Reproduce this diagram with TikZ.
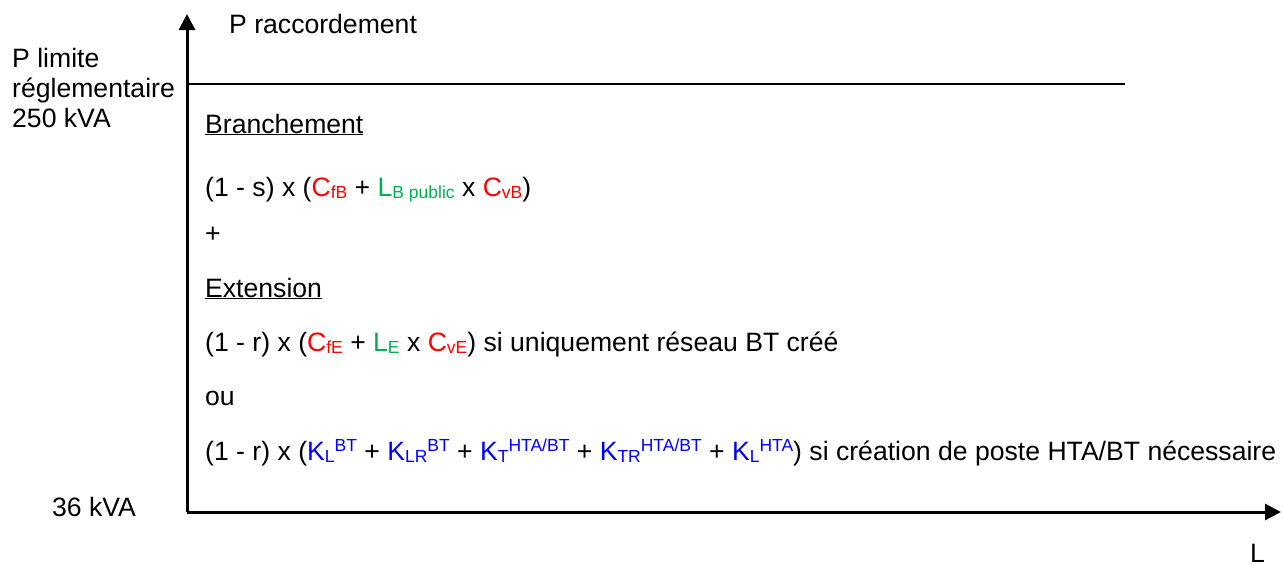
\documentclass[tikz,border=0pt]{standalone}
\usepackage{fontspec}
\setmainfont{Liberation Sans}
\usetikzlibrary{arrows.meta}
\definecolor{tarifred}{RGB}{255,0,0}
\definecolor{tarifgreen}{RGB}{0,176,80}
\definecolor{tarifblue}{RGB}{0,0,255}
\newcommand{\ind}[1]{\raisebox{-0.1em}{\fontsize{17.5}{18}\selectfont #1}}
\newcommand{\expo}[1]{\raisebox{0.33em}{\fontsize{17.5}{18}\selectfont #1}}

\begin{document}
\begin{tikzpicture}
	[x=1pt,y=-1pt,
	 txt/.style={anchor=base west,inner sep=0pt,font=\fontsize{26.6}{30}\selectfont},
	 axis/.style={-{Triangle[length=16pt,width=16pt]},line width=3pt},
	 level/.style={line width=1.1pt}];
\useasboundingbox (0,0) rectangle (1283,565);
\coordinate (O) at (187,512);
\coordinate (ytop) at (187,14);
\coordinate (xend) at (1281,512);
\coordinate (lvlstart) at (187,84);
\coordinate (lvlend) at (1125,84);

\draw[axis] (O) -- (ytop);
\draw[axis] (O) -- (xend);
\draw[level] (lvlstart) -- (lvlend);

\node[txt] (praccord) at (229,33) {P raccordement};
\node[txt,anchor=north west,align=left] (plimite) at (12,48) {P limite\\r\'eglementaire\\250 kVA};
\node[txt] (pmin) at (52,516) {36 kVA};
\node[txt] (laxis) at (1250,562) {L};

\node[txt] (branch) at (205,133) {\underline{Branchement}};
\node[txt] (formB) at (205,196) {(1 - s) x (\textcolor{tarifred}{C\ind{fB}} + \textcolor{tarifgreen}{L\ind{B public}} x \textcolor{tarifred}{C\ind{vB}})};
\node[txt] (plus) at (205,242) {+};
\node[txt] (ext) at (205,297) {\underline{Extension}};
\node[txt] (formE) at (205,351) {(1 - r) x (\textcolor{tarifred}{C\ind{fE}} + \textcolor{tarifgreen}{L\ind{E}} x \textcolor{tarifred}{C\ind{vE}}) si uniquement r\'eseau BT cr\'e\'e};
\node[txt] (ou) at (205,405) {ou};
\node[txt] (formP) at (205,460) {(1 - r) x (\textcolor{tarifblue}{K\ind{L}\expo{BT}} + \textcolor{tarifblue}{K\ind{LR}\expo{BT}} + \textcolor{tarifblue}{K\ind{T}\expo{HTA/BT}} + \textcolor{tarifblue}{K\ind{TR}\expo{HTA/BT}} + \textcolor{tarifblue}{K\ind{L}\expo{HTA}}) si cr\'eation de poste HTA/BT n\'ecessaire};
\end{tikzpicture}
\end{document}
